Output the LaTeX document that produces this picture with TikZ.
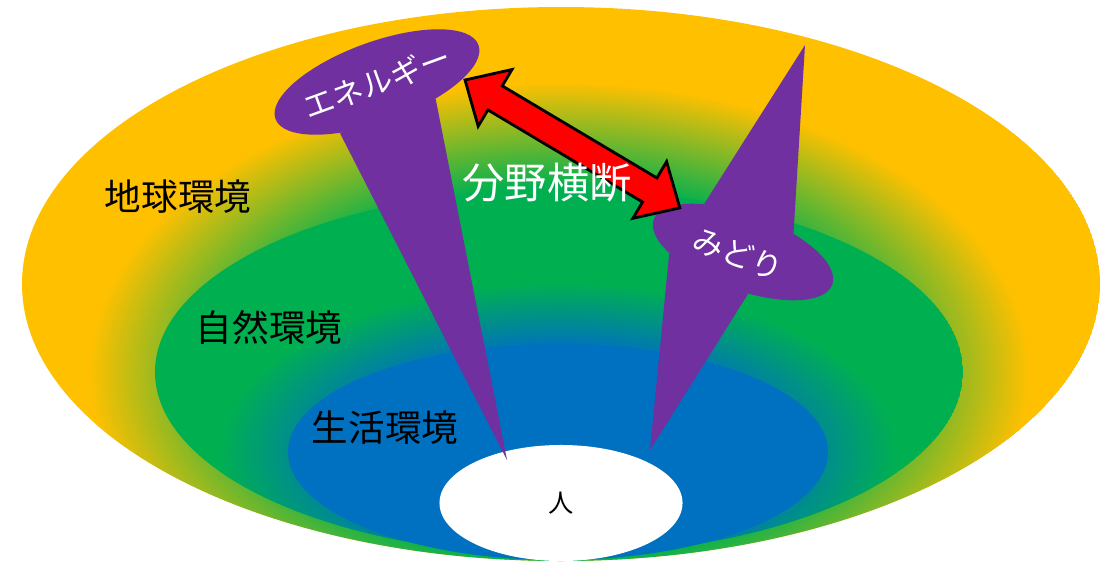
\documentclass[tikz,border=0pt]{standalone}
\usepackage{fontspec}
\usepackage{tikz}
\usepackage{xcolor}
\usetikzlibrary{shapes.geometric}
\newfontfamily\jpfont{Noto Sans CJK JP}
\definecolor{earthyellow}{HTML}{FFC000}
\definecolor{natgreen}{HTML}{00B050}
\definecolor{lifeblue}{HTML}{0070C0}
\definecolor{fieldpurple}{HTML}{7030A0}
\definecolor{linkred}{HTML}{FF0000}
\pgfdeclareradialshading{earthglow}{\pgfpointorigin}{color(0bp)=(natgreen); color(16bp)=(natgreen); color(25bp)=(earthyellow); color(50bp)=(earthyellow)}
\pgfdeclareradialshading{natglow}{\pgfpointorigin}{color(0bp)=(lifeblue); color(15bp)=(lifeblue); color(25bp)=(natgreen); color(50bp)=(natgreen)}

\begin{document}
\begin{tikzpicture}[x=0.025cm, y=0.025cm,
    zone/.style={font=\jpfont\fontsize{26}{30}\selectfont, text=black},
    blob/.style={ellipse, fill=fieldpurple, inner sep=0pt},
    tag/.style={font=\jpfont\fontsize{22}{26}\selectfont, text=white}]
        \useasboundingbox (0,0) rectangle (1111,562);
        % Rings
        \begin{scope}
            \clip (561,278) ellipse [x radius=539, y radius=277];
            \fill[earthyellow] (561,278) ellipse [x radius=539, y radius=277];
            \shade[shading=earthglow] (559,190) ellipse [x radius=470, y radius=290];
        \end{scope}
        \begin{scope}
            \clip (559,190) ellipse [x radius=404, y radius=183];
            \fill[natgreen] (559,190) ellipse [x radius=404, y radius=183];
            \shade[shading=natglow] (558,110) ellipse [x radius=340, y radius=170];
        \end{scope}
        \fill[lifeblue] (558,110) ellipse [x radius=270, y radius=108];
        % Nodes
        \node[ellipse, fill=white, inner sep=0pt, minimum width=6.075cm, minimum height=2.9cm,
            font=\jpfont\fontsize{18}{22}\selectfont] (person) at (561,59) {人};
        \node[blob, minimum width=5.4cm, minimum height=2cm, rotate=20] (energy) at (377,480) {};
        \node[blob, minimum width=4.75cm, minimum height=1.9cm, rotate=-20] (midori) at (743,310) {};
        \coordinate (energytip) at (507,102);
        \coordinate (midoritop) at (805,517);
        \coordinate (midoritip) at (650,112);
        % Beams
        \fill[fieldpurple] (energy.214) -- (energy.324) -- (energytip) -- cycle;
        \fill[fieldpurple] (midori.149) -- (midori.40) -- (midoritop) -- cycle;
        \fill[fieldpurple] (midori.201) -- (midori.297) -- (midoritip) -- cycle;
        \node[tag, rotate=20] (energytext) at (energy.center) {エネルギー};
        \node[tag, rotate=-21] (midoritext) at (738,308) {みどり};
        % Cross-field arrow
        \coordinate (linkA) at (465,482);
        \coordinate (linkB) at (680,354);
        \begin{scope}[shift={(linkA)}, rotate=-30.77]
            \filldraw[fill=linkred, draw=black, line width=2pt, line join=miter]
                (0,0) -- (35,33) -- (35,14) -- (215,14) -- (215,33) -- (250,0)
                -- (215,-33) -- (215,-14) -- (35,-14) -- (35,-33) -- cycle;
        \end{scope}
        \node[font=\jpfont\fontsize{30}{34}\selectfont, text=white] (cross) at (547,379) {分野横断};
        % Labels
        \node[zone] (earth) at (178,365) {地球環境};
        \node[zone] (nature) at (269,235) {自然環境};
        \node[zone] (life) at (385,134) {生活環境};
    \end{tikzpicture}
\end{document}
